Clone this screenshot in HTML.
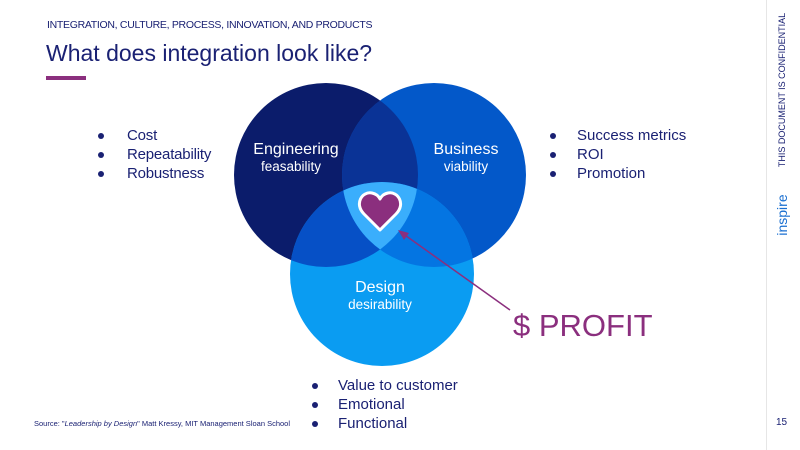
<!DOCTYPE html>
<html><head><meta charset="utf-8"><style>
body{margin:0;width:800px;height:450px;background:#fff;overflow:hidden;position:relative;font-family:"Liberation Sans",sans-serif;color:#1a2173}
.a{position:absolute;white-space:nowrap}
.li{position:absolute;font-size:15px;line-height:19px;white-space:nowrap}
.li span{position:absolute;left:0;top:7px;width:6px;height:6px;border-radius:50%;background:#1a2173}
</style></head><body>
<div class="a" style="left:47px;top:19px;font-size:10.5px;letter-spacing:-0.3px">INTEGRATION, CULTURE, PROCESS, INNOVATION, AND PRODUCTS</div>
<div class="a" style="left:46px;top:40px;font-size:23px">What does integration look like?</div>
<div class="a" style="left:46px;top:76px;width:40px;height:4px;background:#8b2f7e"></div>
<div class="a" style="left:766px;top:0;width:1px;height:450px;background:#e6e6e6"></div>
<div class="a" style="left:782px;top:90px;transform:translate(-50%,-50%) rotate(-90deg);font-size:9px;color:#1a2173">THIS DOCUMENT IS CONFIDENTIAL</div>
<div class="a" style="left:782px;top:215px;transform:translate(-50%,-50%) rotate(-90deg);font-size:14px;color:#1a6fd0">inspire</div>
<div class="a" style="left:776px;top:417px;font-size:10px">15</div>
<div class="a" style="left:34px;top:419px;font-size:7.5px">Source: "<i>Leadership by Design</i>" Matt Kressy, MIT Management Sloan School</div>

<svg class="a" style="left:0;top:0" width="800" height="450">
<defs>
<clipPath id="e"><circle cx="326" cy="175" r="92"/></clipPath>
<clipPath id="b"><circle cx="434" cy="175" r="92"/></clipPath>
</defs>
<circle cx="326" cy="175" r="92" fill="#0b1c6b"/>
<circle cx="434" cy="175" r="92" fill="#0358c9"/>
<circle cx="382" cy="274" r="92" fill="#0a9cf2"/>
<g clip-path="url(#e)"><circle cx="434" cy="175" r="92" fill="#0a3396"/><circle cx="382" cy="274" r="92" fill="#0650c6"/></g>
<g clip-path="url(#b)"><circle cx="382" cy="274" r="92" fill="#0475e2"/></g>
<g clip-path="url(#e)"><g clip-path="url(#b)"><circle cx="382" cy="274" r="92" fill="#3aaefc"/></g></g>
<path d="M380 230 L364 214 C354 204 362 191 372 193 C377 194 379 197 380 199 C381 197 383 194 388 193 C398 191 406 204 396 214 Z" fill="#8b2f7e" stroke="#fff" stroke-width="3" stroke-linejoin="round"/>
<line x1="510" y1="310" x2="402" y2="233" stroke="#8b2f7e" stroke-width="1.5"/>
<polygon points="398,230 409,233 404,240" fill="#8b2f7e"/>
<g fill="#fff" font-family="Liberation Sans,sans-serif" text-anchor="middle">
<text x="296" y="154" font-size="16">Engineering</text>
<text x="291" y="171" font-size="13.5">feasability</text>
<text x="466" y="154" font-size="16">Business</text>
<text x="466" y="171" font-size="13.5">viability</text>
<text x="380" y="292" font-size="16">Design</text>
<text x="380" y="309" font-size="13.5">desirability</text>
</g>
<text x="513" y="336" font-size="31" fill="#8b2f7e" font-family="Liberation Sans,sans-serif">$ PROFIT</text>
</svg>

<div class="li" style="left:98px;top:126px;letter-spacing:-0.2px"><span></span><b style="font-weight:normal;margin-left:29px">Cost</b></div>
<div class="li" style="left:98px;top:145px;letter-spacing:-0.2px"><span></span><b style="font-weight:normal;margin-left:29px">Repeatability</b></div>
<div class="li" style="left:98px;top:164px;letter-spacing:-0.2px"><span></span><b style="font-weight:normal;margin-left:29px">Robustness</b></div>
<div class="li" style="left:550px;top:126px"><span></span><b style="font-weight:normal;margin-left:27px">Success metrics</b></div>
<div class="li" style="left:550px;top:145px"><span></span><b style="font-weight:normal;margin-left:27px">ROI</b></div>
<div class="li" style="left:550px;top:164px"><span></span><b style="font-weight:normal;margin-left:27px">Promotion</b></div>
<div class="li" style="left:312px;top:376px"><span></span><b style="font-weight:normal;margin-left:26px">Value to customer</b></div>
<div class="li" style="left:312px;top:395px"><span></span><b style="font-weight:normal;margin-left:26px">Emotional</b></div>
<div class="li" style="left:312px;top:414px"><span></span><b style="font-weight:normal;margin-left:26px">Functional</b></div>
</body></html>
